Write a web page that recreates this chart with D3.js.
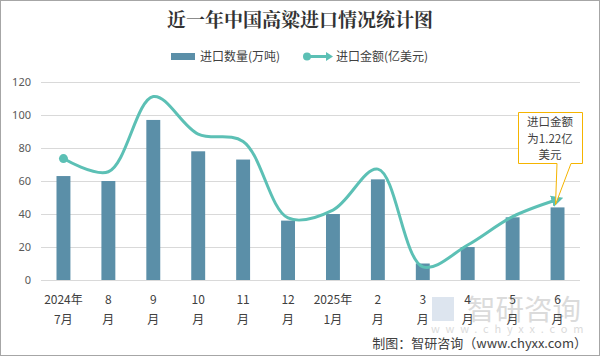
<!DOCTYPE html>
<html><head><meta charset="utf-8">
<script src="https://cdn.jsdelivr.net/npm/d3@7"></script>
<style>
html,body{margin:0;padding:0;background:#fff;}
svg{display:block;font-family:"Noto Sans CJK SC","Noto Sans",sans-serif;}
</style></head>
<body><svg id="c" width="600" height="356"></svg>
<script>
const categories = [["2024年","7月"],["8","月"],["9","月"],["10","月"],["11","月"],["12","月"],["2025年","1月"],["2","月"],["3","月"],["4","月"],["5","月"],["6","月"]];
const volume = [63,60,97,78,73,36,40,61,10,20,38,44];       // 进口数量(万吨)
const amount = [1.84,1.64,2.78,2.21,2.10,0.94,1.06,1.68,0.20,0.53,0.96,1.22]; // 进口金额(亿美元)
const yTicks = [0,20,40,60,80,100,120];
const title = "近一年中国高粱进口情况统计图";
const legendNames = ["进口数量(万吨)","进口金额(亿美元)"];
const calloutLines = ["进口金额","为1.22亿","美元"];
const source = "制图：智研咨询（www.chyxx.com）";

const svg = d3.select("#c");
const W=600,H=356;
const barColor="#5b8fa8", lineColor="#5cc0b5";
svg.append("rect").attr("x",0.5).attr("y",0.5).attr("width",W-1).attr("height",H-1)
  .attr("fill","#fff").attr("stroke","#a6a6a6");

const x = d3.scaleBand().domain(d3.range(categories.length)).range([41,580]).paddingInner(0.69).paddingOuter(0.345);
const y = d3.scaleLinear().domain([0,120]).range([280,82]);
const y2 = d3.scaleLinear().domain([0,3]).range([280,82]);
const cx = i => x(i)+x.bandwidth()/2;

// grid
svg.append("g").selectAll("line").data(yTicks).join("line")
  .attr("x1",41).attr("x2",580).attr("y1",d=>y(d)+0.5).attr("y2",d=>y(d)+0.5)
  .attr("stroke","#d9d9d9").attr("stroke-width",1);
// y axis labels
const yAxis = d3.axisLeft(y).tickValues(yTicks).tickSize(0).tickPadding(0);
const ga = svg.append("g").attr("transform","translate(31,0)").call(yAxis);
ga.select(".domain").remove();
ga.selectAll("text").attr("font-size",11).attr("fill","#595959").attr("font-family","'Noto Sans',sans-serif");

// bars
svg.append("g").selectAll("rect").data(volume).join("rect")
  .attr("x",(d,i)=>x(i)).attr("width",x.bandwidth())
  .attr("y",d=>y(d)).attr("height",d=>y(0)-y(d)).attr("fill",barColor);

// watermark (behind labels)
const wm = svg.append("g").attr("opacity",0.35);
wm.append("rect").attr("x",432).attr("y",297).attr("width",22).attr("height",24).attr("fill","#9fb7d3");
wm.append("text").attr("x",467).attr("y",320).attr("font-size",28.5).attr("fill","#9a9a9a").text("智研咨询");
wm.append("text").attr("x",431).attr("y",333).attr("font-size",11).attr("letter-spacing",5.8).attr("fill","#9a9a9a").text("www.chyxx.com");

// x labels
const xl = svg.append("g").selectAll("text").data(categories).join("text")
  .attr("text-anchor","middle").attr("font-size",12).attr("fill","#404040");
xl.append("tspan").attr("x",(d,i)=>cx(i)).attr("y",304).text(d=>d[0]);
xl.append("tspan").attr("x",(d,i)=>cx(i)).attr("y",324).text(d=>d[1]);

// line
const defs = svg.append("defs");
defs.append("marker").attr("id","arr").attr("viewBox","0 0 10 10").attr("refX",5).attr("refY",5)
  .attr("markerWidth",4).attr("markerHeight",4).attr("orient","auto")
  .append("path").attr("d","M0,0 L10,5 L0,10 z").attr("fill",lineColor);
const line = d3.line().x((d,i)=>cx(i)).y(d=>y2(d)).curve(d3.curveCatmullRom.alpha(0.5));
svg.append("path").datum(amount).attr("d",line).attr("fill","none")
  .attr("stroke",lineColor).attr("stroke-width",3).attr("marker-end","url(#arr)");
svg.append("circle").attr("cx",cx(0)).attr("cy",y2(amount[0])).attr("r",4.5).attr("fill",lineColor);

// callout
const last = amount.length-1;
const tipX = cx(last)-2, tipY = y2(amount[last])+5;
svg.append("path")
  .attr("d",`M518.5,112.5 H582.5 V163.5 H571 L${tipX},${tipY} L557,163.5 H518.5 Z`)
  .attr("fill","#fff").attr("stroke","#f5b400").attr("stroke-width",1);
svg.append("g").selectAll("text").data(calloutLines).join("text")
  .attr("x",550).attr("y",(d,i)=>126+i*16.5).attr("text-anchor","middle")
  .attr("font-size",11.5).attr("fill","#404040").text(d=>d);

// title
svg.append("text").attr("x",300).attr("y",27).attr("text-anchor","middle")
  .attr("font-size",19).attr("font-weight","bold").attr("fill","#333")
  .attr("font-family","'Noto Serif CJK SC','Noto Sans CJK SC',serif").text(title);

// legend
svg.append("rect").attr("x",171).attr("y",53).attr("width",24).attr("height",7).attr("fill",barColor);
svg.append("text").attr("x",200).attr("y",61).attr("font-size",12).attr("fill","#404040").text(legendNames[0]);
svg.append("line").attr("x1",307).attr("x2",328).attr("y1",56.5).attr("y2",56.5).attr("stroke",lineColor).attr("stroke-width",3);
svg.append("circle").attr("cx",307).attr("cy",56.5).attr("r",4).attr("fill",lineColor);
svg.append("path").attr("d","M326,52 L333,56.5 L326,61 Z").attr("fill",lineColor);
svg.append("text").attr("x",336).attr("y",61).attr("font-size",12).attr("fill","#404040").text(legendNames[1]);

// source
svg.append("text").attr("x",587).attr("y",348).attr("text-anchor","end")
  .attr("font-size",13).attr("fill","#404040").text(source);
</script></body></html>
